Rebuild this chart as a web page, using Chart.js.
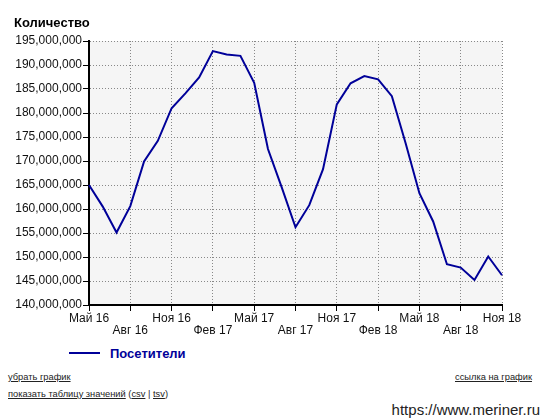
<!DOCTYPE html>
<html>
<head>
<meta charset="utf-8">
<script src="https://cdn.jsdelivr.net/npm/chart.js@4"></script>
<style>
    body { margin: 0; background: #fff; font-family: 'Liberation Sans', Arial, sans-serif; }
    #wrap { position: relative; width: 547px; height: 420px; overflow: hidden; }
    #visitorsChart { position: absolute; left: 0; top: 0; }
    .title { position: absolute; left: 14px; top: 15px; font-size: 13px; font-weight: bold; color: #000; }
    .legend { position: absolute; left: 69px; top: 345px; height: 16px; display: flex; align-items: center; }
    .legend .swatch { width: 31px; height: 2px; margin-right: 10px; }
    .legend .text { font-size: 13px; font-weight: bold; }
    .link { position: absolute; font-size: 9.3px; color: #222; white-space: nowrap; }
    .link u { text-decoration: underline; }
    .site { position: absolute; right: 7px; top: 401px; font-size: 15px; color: #222; white-space: nowrap; }
</style>
</head>
<body>
<div id="wrap">
    <canvas id="visitorsChart" width="547" height="345"></canvas>
    <div class="title">Количество</div>
    <div class="legend" id="legend"></div>
    <div class="link" style="left:8px; top:372px;"><u>убрать график</u></div>
    <div class="link" style="left:8px; top:389px;"><u>показать таблицу значений</u> (<u>csv</u> | <u>tsv</u>)</div>
    <div class="link" style="left:455px; top:372px;"><u>ссылка на график</u></div>
    <div class="site">https://www.meriner.ru</div>
</div>
<script>
const monthLabels = [
    'Май 16', 'Июн 16', 'Июл 16', 'Авг 16', 'Сен 16', 'Окт 16',
    'Ноя 16', 'Дек 16', 'Янв 17', 'Фев 17', 'Мар 17', 'Апр 17',
    'Май 17', 'Июн 17', 'Июл 17', 'Авг 17', 'Сен 17', 'Окт 17',
    'Ноя 17', 'Дек 17', 'Янв 18', 'Фев 18', 'Мар 18', 'Апр 18',
    'Май 18', 'Июн 18', 'Июл 18', 'Авг 18', 'Сен 18', 'Окт 18',
    'Ноя 18'
];

const visitors = [
    165000000, 160500000, 155100000, 160600000, 169900000, 174200000,
    181000000, 184100000, 187400000, 192900000, 192200000, 191900000,
    186300000, 172500000, 164500000, 156200000, 160800000, 168300000,
    181800000, 186200000, 187700000, 187000000, 183500000, 173700000,
    163300000, 157400000, 148500000, 147800000, 145200000, 150100000,
    146200000
];

const seriesName = 'Посетители';
const lineColor = 'rgb(0, 0, 153)';

// grey plot background
const plotBackground = {
    id: 'plotBackground',
    beforeDraw(chart) {
        const a = chart.chartArea;
        const ctx = chart.ctx;
        ctx.save();
        ctx.fillStyle = '#f5f5f5';
        ctx.fillRect(a.left, a.top, a.right - a.left, a.bottom - a.top);
        ctx.restore();
    }
};

Chart.defaults.font.family = "'Liberation Sans', Arial, sans-serif";
Chart.defaults.font.size = 12;
Chart.defaults.color = '#111';

const visitorsData = {
    labels: monthLabels,
    datasets: [{
        label: seriesName,
        data: visitors,
        borderColor: lineColor,
        borderWidth: 2,
        pointRadius: 0,
        tension: 0,
        fill: false
    }]
};

const visitorsConfig = {
    type: 'line',
    data: visitorsData,
    options: {
        responsive: false,
        animation: false,
        layout: { padding: { top: 41, right: 45, left: 0, bottom: 0 } },
        plugins: {
            legend: { display: false },
            tooltip: { enabled: false }
        },
        scales: {
            x: {
                offset: false,
                afterFit: function (scale) { scale.height = 40 },
                // in v4 border.dash is what dashes the grid lines
                border: { color: '#000', width: 2, dash: [1, 2] },
                grid: {
                    color: function (c) { return c.index % 3 === 0 ? '#888' : 'rgba(0,0,0,0)' },
                    tickLength: 6,
                    tickColor: function (c) { return c.index % 3 === 0 ? '#000' : 'rgba(0,0,0,0)' },
                    tickBorderDash: [],
                    tickWidth: 1
                },
                ticks: {
                    autoSkip: false,
                    maxRotation: 0,
                    minRotation: 0,
                    padding: 2,
                    font: { size: 12, lineHeight: 1 },
                    callback: function (value, index) {
                        if (index % 3 !== 0) return ''
                        const label = monthLabels[index]
                        return (index / 3) % 2 === 0 ? [label, ''] : ['', label]
                    }
                }
            },
            y: {
                min: 140000000,
                max: 195000000,
                afterFit: function (scale) { scale.width = 89 },
                border: { color: '#000', width: 2, dash: [1, 2] },
                grid: {
                    color: '#888',
                    tickLength: 6,
                    tickColor: '#000',
                    tickBorderDash: [],
                    tickWidth: 1
                },
                ticks: {
                    stepSize: 5000000,
                    padding: 1,
                    callback: function (value) { return value.toLocaleString('en-US') }
                }
            }
        }
    },
    plugins: [plotBackground]
};

const visitorsChart = new Chart(
    document.getElementById('visitorsChart'),
    visitorsConfig
);

// legend below the chart, built from the dataset
const ds = visitorsChart.data.datasets[0];
document.getElementById('legend').innerHTML =
    '<span class="swatch" style="background:' + ds.borderColor + '"></span>' +
    '<span class="text" style="color:' + ds.borderColor + '">' + ds.label + '</span>';
</script>
</body>
</html>
